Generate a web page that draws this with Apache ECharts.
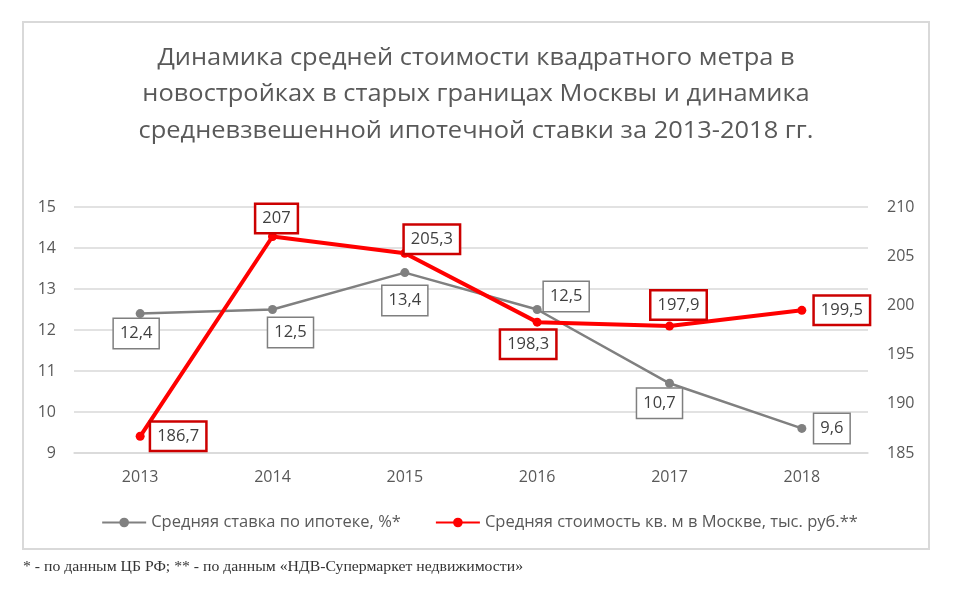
<!DOCTYPE html>
<html>
<head>
<meta charset="utf-8">
<script src="https://cdn.jsdelivr.net/npm/echarts@6/dist/echarts.min.js"></script>
<style>html,body{margin:0;padding:0;background:#fff;}#c{width:959px;height:598px;}</style>
</head>
<body>
<div id="c"></div>
<script>
const years = ['2013', '2014', '2015', '2016', '2017', '2018'];
const rateValues = [12.4, 12.5, 13.4, 12.5, 10.7, 9.6];
const priceValues = [186.7, 207, 205.3, 198.3, 197.9, 199.5];
const rateName = 'Средняя ставка по ипотеке, %*';
const priceName = 'Средняя стоимость кв. м в Москве, тыс. руб.**';
const titleLines = [
  'Динамика средней стоимости квадратного метра в',
  'новостройках в старых границах Москвы и динамика',
  'средневзвешенной ипотечной ставки за 2013-2018 гг.'
];
const footnoteText = '* - по данным ЦБ РФ; ** - по данным «НДВ-Супермаркет недвижимости»';

// label offsets (styling only)
const rateOffsets = [[-4, 20], [18, 23], [0, 28], [29, -13], [-10, 20], [30, 0]];
const priceOffsets = [[38, 0], [4, -18], [27, -14], [-9, 22], [9, -21], [40, 0]];

const fmt = v => String(v).replace('.', ',');
const FONT = '"Open Sans", sans-serif';

const titleGraphics = titleLines.map((t, i) => ({
  type: 'text', x: 476, y: 58 + i * 36.5, scaleX: 1.06, originX: 0, silent: true,
  style: {text: t, font: '24px "Open Sans", sans-serif', fill: '#595959',
          textAlign: 'center', textVerticalAlign: 'middle'}
}));

const chart = echarts.init(document.getElementById('c'), null, {renderer: 'canvas'});
chart.setOption({
  animation: false,
  backgroundColor: '#fff',
  legend: {
    top: 509, left: 'center',
    itemWidth: 44, itemHeight: 12, itemGap: 34,
    textStyle: {fontFamily: FONT, fontSize: 16.5, color: '#595959'},
    data: [rateName, priceName]
  },
  grid: {left: 74, right: 91, top: 207, bottom: 145, containLabel: false},
  xAxis: {
    type: 'category', data: years, boundaryGap: true,
    axisLine: {show: true, lineStyle: {color: '#d9d9d9', width: 1.5}},
    axisTick: {show: false},
    axisLabel: {fontFamily: FONT, fontSize: 16, color: '#595959', margin: 16}
  },
  yAxis: [
    {type: 'value', min: 9, max: 15, interval: 1,
     axisLine: {show: false}, axisTick: {show: false},
     axisLabel: {fontFamily: FONT, fontSize: 16, color: '#595959', margin: 18},
     splitLine: {lineStyle: {color: '#d9d9d9', width: 1.5}}},
    {type: 'value', min: 185, max: 210, interval: 5, position: 'right',
     axisLine: {show: false}, axisTick: {show: false},
     axisLabel: {fontFamily: FONT, fontSize: 16, color: '#595959', margin: 19},
     splitLine: {show: false}}
  ],
  series: [
    {
      name: rateName, type: 'line', yAxisIndex: 0,
      data: rateValues.map((v, i) => ({value: v, label: {offset: rateOffsets[i]}})),
      color: '#808080',
      lineStyle: {width: 2.5, color: '#808080'},
      symbol: 'circle', symbolSize: 9,
      itemStyle: {color: '#808080'},
      label: {
        show: true, position: 'inside', formatter: p => fmt(p.value),
        fontFamily: FONT, fontSize: 16.5, color: '#404040', lineHeight: 20,
        backgroundColor: '#fff', borderColor: '#7f7f7f', borderWidth: 1.5,
        padding: [5, 6, 4, 6]
      },
      z: 2
    },
    {
      name: priceName, type: 'line', yAxisIndex: 1,
      data: priceValues.map((v, i) => ({value: v, label: {offset: priceOffsets[i]}})),
      color: '#ff0000',
      lineStyle: {width: 4, color: '#ff0000'},
      symbol: 'circle', symbolSize: 9,
      itemStyle: {color: '#ff0000'},
      label: {
        show: true, position: 'inside', formatter: p => fmt(p.value),
        fontFamily: FONT, fontSize: 16.5, color: '#404040', lineHeight: 20,
        backgroundColor: '#fff', borderColor: '#cc0000', borderWidth: 2.5,
        padding: [4, 6, 3, 6]
      },
      z: 3
    }
  ],
  graphic: [
    {type: 'rect', silent: true, z: -10,
     shape: {x: 23, y: 22, width: 906, height: 527},
     style: {fill: 'none', stroke: '#d9d9d9', lineWidth: 2}},
    ...titleGraphics,
    {type: 'text', x: 23, y: 567, scaleX: 1.05, originX: 0, silent: true,
     style: {text: footnoteText, font: '15px "Liberation Serif", serif', fill: '#333',
             textAlign: 'left', textVerticalAlign: 'middle'}}
  ]
});
</script>
</body>
</html>
